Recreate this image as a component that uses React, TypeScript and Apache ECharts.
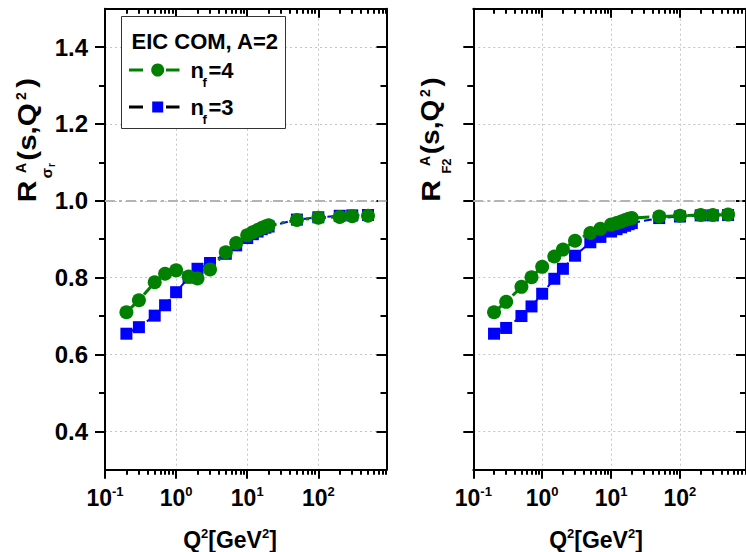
import React, { useEffect, useRef } from "react";
import * as echarts from "echarts";

// ---- data ----
const q2 = [0.2, 0.3, 0.5, 0.7, 1, 1.5, 2, 3, 5, 7, 10, 12, 14, 16, 18, 20, 50, 100, 200, 300, 500];
const sigmaNf4 = [0.710, 0.741, 0.788, 0.810, 0.819, 0.803, 0.798, 0.821, 0.866, 0.890, 0.910, 0.918, 0.924, 0.929, 0.933, 0.936, 0.950, 0.956, 0.958, 0.960, 0.961];
const sigmaNf3 = [0.654, 0.671, 0.701, 0.728, 0.762, 0.800, 0.823, 0.838, 0.862, 0.884, 0.903, 0.913, 0.920, 0.926, 0.930, 0.933, 0.951, 0.957, 0.961, 0.962, 0.963];
const f2Nf4 = [0.710, 0.737, 0.776, 0.801, 0.828, 0.855, 0.873, 0.896, 0.916, 0.927, 0.938, 0.942, 0.946, 0.950, 0.953, 0.955, 0.959, 0.961, 0.963, 0.963, 0.964];
const f2Nf3 = [0.654, 0.669, 0.700, 0.725, 0.758, 0.797, 0.823, 0.857, 0.892, 0.906, 0.920, 0.926, 0.931, 0.935, 0.939, 0.942, 0.955, 0.959, 0.962, 0.962, 0.963];

const xMajorTicks = [0.1, 1, 10, 100];
const xMinorTicks = [0.2, 0.3, 0.4, 0.5, 0.6, 0.7, 0.8, 0.9, 2, 3, 4, 5, 6, 7, 8, 9, 20, 30, 40, 50, 60, 70, 80, 90, 200, 300, 400, 500, 600, 700, 800, 900];
const yMajorTicks = [0.4, 0.6, 0.8, 1.0, 1.2, 1.4];
const yMinorTicks = [0.5, 0.7, 0.9, 1.1, 1.3];
const X_MIN = 0.1;
const X_MAX = 910;
const Y_MIN = 0.3;
const Y_MAX = 1.5;
const REF_VALUE = 1.0;
const legendTitle = "EIC COM, A=2";
const legendNf4 = "=4";
const legendNf3 = "=3";

const FONT = "'Liberation Sans', Arial, sans-serif";
const GREEN = "#008000";
const BLUE = "#0000ff";

const grids = [
  { left: 105, top: 8.7, width: 281.5, height: 461 },
  { left: 473.3, top: 8.7, width: 281.5, height: 461 },
];

const gridLineStyle = { type: [2, 3] as any, color: "#c4c4c4", width: 1 };

function xAxisDef(g: number, pos: "bottom" | "top", major: boolean) {
  const isBottomMajor = pos === "bottom" && major;
  return {
    type: "log",
    logBase: 10,
    gridIndex: g,
    min: X_MIN,
    max: X_MAX,
    position: pos,
    axisLine: { show: major, onZero: false, lineStyle: { color: "#000", width: 2 } },
    axisTick: {
      show: true,
      inside: pos === "top",
      length: major ? 9 : 5,
      customValues: major ? xMajorTicks : xMinorTicks,
      lineStyle: { color: "#000", width: 2 },
    },
    minorTick: { show: false },
    axisLabel: {
      show: isBottomMajor,
      customValues: xMajorTicks,
      margin: 15,
      formatter: (v: number) => `{b|10}{s|${Math.round(Math.log10(v))}}`,
      rich: {
        b: { fontSize: 23, fontWeight: "bold", fontFamily: FONT, color: "#000", lineHeight: 27, verticalAlign: "middle" },
        s: { fontSize: 13, fontWeight: "bold", fontFamily: FONT, color: "#000", lineHeight: 13, verticalAlign: "top" },
      },
    },
    splitLine: { show: isBottomMajor, lineStyle: gridLineStyle },
  };
}

function yAxisDef(g: number, pos: "left" | "right", major: boolean) {
  const isLeftMajor = pos === "left" && major;
  return {
    type: "value",
    gridIndex: g,
    min: Y_MIN,
    max: Y_MAX,
    position: pos,
    axisLine: { show: major, onZero: false, lineStyle: { color: "#000", width: 2 } },
    axisTick: {
      show: true,
      inside: pos === "right",
      length: major ? 10 : 6,
      customValues: major ? yMajorTicks : yMinorTicks,
      lineStyle: { color: "#000", width: 2 },
    },
    axisLabel: {
      show: isLeftMajor && g === 0,
      customValues: yMajorTicks,
      margin: 17,
      formatter: (v: number) => v.toFixed(1),
      fontSize: 24,
      fontWeight: "bold",
      fontFamily: FONT,
      color: "#000",
    },
    splitLine: { show: isLeftMajor, lineStyle: gridLineStyle },
  };
}

function seriesFor(g: number, nf3: number[], nf4: number[]) {
  const ax = { xAxisIndex: g * 4, yAxisIndex: g * 4 };
  return [
    {
      type: "line",
      name: "nf3_" + g,
      ...ax,
      data: q2.map((x, i) => [x, nf3[i]]),
      symbol: "rect",
      symbolSize: 12,
      showAllSymbol: true,
      itemStyle: { color: BLUE },
      lineStyle: { color: BLUE, width: 2, type: "dashed" },
      z: 3,
      markLine: {
        silent: true,
        symbol: "none",
        label: { show: false },
        lineStyle: { color: "#b4b4b4", width: 2, type: [10, 4, 3, 4] },
        data: [{ yAxis: REF_VALUE }],
      },
    },
    {
      type: "line",
      name: "nf4_" + g,
      ...ax,
      data: q2.map((x, i) => [x, nf4[i]]),
      symbol: "circle",
      symbolSize: 14,
      showAllSymbol: true,
      itemStyle: { color: GREEN },
      lineStyle: { color: GREEN, width: 3, type: [12, 5, 3, 5] },
      z: 4,
    },
  ];
}

function rt(text: string, x: number, y: number, size: number, scaleX = 1) {
  return {
    type: "text",
    x,
    y,
    rotation: Math.PI / 2,
    scaleX,
    z: 100,
    style: {
      text,
      font: `bold ${size}px ${FONT}`,
      fill: "#000",
      align: "center",
      verticalAlign: "middle",
    },
  };
}

function txt(text: string, x: number, y: number, size: number, align = "left") {
  return {
    type: "text",
    x,
    y,
    z: 100,
    style: { text, font: `bold ${size}px ${FONT}`, fill: "#000", align, verticalAlign: "middle" },
  };
}

const titleRich = {
  m: { fontSize: 23, fontWeight: "bold", fontFamily: FONT, color: "#000", lineHeight: 27, verticalAlign: "middle" },
  s: { fontSize: 13, fontWeight: "bold", fontFamily: FONT, color: "#000", lineHeight: 13, verticalAlign: "top" },
};

function xTitle(cx: number) {
  return {
    type: "text",
    x: cx,
    y: 540,
    z: 100,
    style: {
      text: "{m|Q}{s|2}{m|[GeV}{s|2}{m|]}",
      rich: titleRich,
      align: "center",
      verticalAlign: "middle",
      fill: "#000",
    },
  };
}

const graphics: any[] = [
  // legend box
  { type: "rect", z: 100, shape: { x: 121.5, y: 16.5, width: 164, height: 112 }, style: { fill: "#fff", stroke: "#333", lineWidth: 1 } },
  txt(legendTitle, 131.5, 41, 22),
  { type: "line", z: 101, shape: { x1: 129, y1: 70, x2: 143, y2: 70 }, style: { stroke: GREEN, lineWidth: 3 } },
  { type: "line", z: 101, shape: { x1: 166, y1: 70, x2: 179.5, y2: 70 }, style: { stroke: GREEN, lineWidth: 3 } },
  { type: "circle", z: 101, shape: { cx: 157.7, cy: 70, r: 6.5 }, style: { fill: GREEN } },
  txt("n", 190.5, 70, 22),
  txt("f", 202.5, 82, 13),
  txt(legendNf4, 208.5, 70, 22),
  { type: "line", z: 101, shape: { x1: 129, y1: 107, x2: 143, y2: 107 }, style: { stroke: "#000", lineWidth: 3 } },
  { type: "line", z: 101, shape: { x1: 166, y1: 107, x2: 179.5, y2: 107 }, style: { stroke: "#000", lineWidth: 3 } },
  { type: "rect", z: 101, shape: { x: 152.2, y: 101.5, width: 11, height: 11 }, style: { fill: BLUE } },
  txt("n", 190.5, 107, 22),
  txt("f", 202.5, 119, 13),
  txt(legendNf3, 208.5, 107, 22),
  // left y title: R^A_{σr}(s,Q^2)
  rt("R", 27, 191.5, 25, 1.2),
  rt("A", 20.5, 168, 14),
  rt("σ", 46.5, 173, 15),
  rt("r", 51.5, 165, 10),
  rt("(s,Q", 27, 132, 25, 1.18),
  rt("2", 20.5, 96, 14),
  rt(")", 27, 83, 25, 1.15),
  // right y title: R^A_{F2}(s,Q^2)
  rt("R", 431, 191, 25, 1.2),
  rt("A", 425, 161, 14),
  rt("F2", 446.5, 166, 13),
  rt("(s,Q", 431, 127, 25, 1.12),
  rt("2", 425, 93, 14),
  rt(")", 431, 82, 25, 1.1),
  // x titles
  xTitle(230),
  xTitle(596),
];

const option: any = {
  animation: false,
  backgroundColor: "#fff",
  grid: grids,
  xAxis: [0, 1].flatMap((g) => [
    xAxisDef(g, "bottom", true),
    xAxisDef(g, "bottom", false),
    xAxisDef(g, "top", true),
    xAxisDef(g, "top", false),
  ]),
  yAxis: [0, 1].flatMap((g) => [
    yAxisDef(g, "left", true),
    yAxisDef(g, "left", false),
    yAxisDef(g, "right", true),
    yAxisDef(g, "right", false),
  ]),
  series: [...seriesFor(0, sigmaNf3, sigmaNf4), ...seriesFor(1, f2Nf3, f2Nf4)],
  graphic: { elements: graphics },
};

export default function App() {
  const ref = useRef<HTMLDivElement>(null);
  useEffect(() => {
    const chart = echarts.init(ref.current!, null, { renderer: "svg" });
    chart.setOption(option);
    return () => chart.dispose();
  }, []);
  return <div ref={ref} style={{ position: "absolute", left: 0, top: 0, width: 746, height: 552 }} />;
}
